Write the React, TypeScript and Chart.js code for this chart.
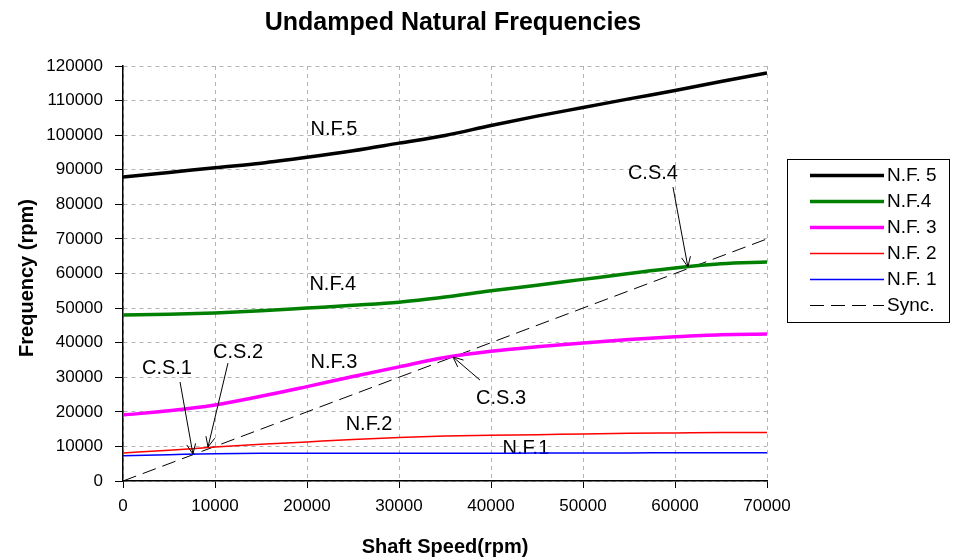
import React, { useEffect, useRef } from 'react';
import { Chart, registerables } from 'chart.js';

Chart.register(...registerables);

// ---- Data ----
const speeds = [0, 5000, 10000, 15000, 20000, 25000, 30000, 35000, 40000, 45000, 50000, 55000, 60000, 65000, 70000];
const nf5 = [87900, 89200, 90600, 91900, 93600, 95500, 97700, 99900, 102800, 105500, 108000, 110500, 112900, 115500, 118000];
const nf4 = [48000, 48200, 48600, 49200, 50000, 50800, 51700, 53200, 55000, 56600, 58300, 60000, 61600, 62800, 63300];
const nf3 = [19100, 20300, 22000, 24500, 27300, 30200, 33000, 35700, 37500, 38800, 39900, 40900, 41700, 42300, 42500];
const nf2 = [8100, 8900, 9800, 10600, 11300, 12000, 12600, 13000, 13200, 13400, 13600, 13800, 13900, 14000, 14000];
const nf1 = [7300, 7600, 7900, 8000, 8000, 8000, 8000, 8000, 8000, 8100, 8100, 8100, 8200, 8200, 8200];
const syncX = [0, 70000];
const syncY = [0, 70000];

const seriesLabels = ['N.F. 5', 'N.F.4', 'N.F. 3', 'N.F. 2', 'N.F. 1', 'Sync.'];

const noteTexts = ['N.F.5', 'N.F.4', 'N.F.3', 'N.F.2', 'N.F.1', 'C.S.1', 'C.S.2', 'C.S.3', 'C.S.4'];
const noteX = [22930, 22800, 22930, 26740, 43800, 4780, 12500, 41090, 57600];
const noteY = [101500, 56700, 34400, 16200, 9540, 32400, 37300, 24000, 88800];

// arrows: start (x0,y0) -> tip (x1,y1)
const arrowX0 = [6200, 11410, 38800, 59780];
const arrowY0 = [28630, 34100, 29200, 85000];
const arrowX1 = [7600, 9240, 35870, 61400];
const arrowY1 = [7800, 9830, 35860, 61900];

const FONT = '"Liberation Sans", Arial, Helvetica, sans-serif';

const toXY = (xs: number[], ys: number[]) => xs.map((x, i) => ({ x, y: ys[i] }));

const decorPlugin = {
  id: 'decor',
  beforeDatasetsDraw(chart: any) {
    const ctx = chart.ctx;
    const xs = chart.scales.x;
    const ys = chart.scales.y;
    ctx.save();
    ctx.fillStyle = '#000';
    ctx.font = `20px ${FONT}`;
    ctx.textAlign = 'center';
    ctx.textBaseline = 'middle';
    noteTexts.forEach((t, i) => {
      ctx.fillText(t, xs.getPixelForValue(noteX[i]), ys.getPixelForValue(noteY[i]));
    });
    ctx.restore();
  },
  afterDatasetsDraw(chart: any) {
    const ctx = chart.ctx;
    const xs = chart.scales.x;
    const ys = chart.scales.y;
    ctx.save();
    ctx.strokeStyle = '#000';
    ctx.lineWidth = 1;
    arrowX0.forEach((_, i) => {
      const x0 = xs.getPixelForValue(arrowX0[i]);
      const y0 = ys.getPixelForValue(arrowY0[i]);
      const x1 = xs.getPixelForValue(arrowX1[i]);
      const y1 = ys.getPixelForValue(arrowY1[i]);
      ctx.beginPath();
      ctx.moveTo(x0, y0);
      ctx.lineTo(x1, y1);
      const ang = Math.atan2(y1 - y0, x1 - x0);
      const L = 11;
      const a = 0.42;
      ctx.moveTo(x1 - L * Math.cos(ang - a), y1 - L * Math.sin(ang - a));
      ctx.lineTo(x1, y1);
      ctx.lineTo(x1 - L * Math.cos(ang + a), y1 - L * Math.sin(ang + a));
      ctx.stroke();
    });
    ctx.restore();
  },
  afterDraw(chart: any) {
    const ctx = chart.ctx;
    const area = chart.chartArea;
    ctx.save();
    ctx.fillStyle = '#000';
    // title
    ctx.font = `bold 25px ${FONT}`;
    ctx.textAlign = 'center';
    ctx.textBaseline = 'alphabetic';
    ctx.fillText('Undamped Natural Frequencies', 453, 30);
    // x title
    ctx.font = `bold 20px ${FONT}`;
    ctx.fillText('Shaft Speed(rpm)', (area.left + area.right) / 2, 553);
    // y title
    ctx.save();
    ctx.translate(33, 278);
    ctx.rotate(-Math.PI / 2);
    ctx.fillText('Frequency (rpm)', 0, 0);
    ctx.restore();
    // legend
    const bx = 787, by = 159, bw = 162, bh = 163;
    ctx.strokeStyle = '#000';
    ctx.lineWidth = 1;
    ctx.strokeRect(bx + 0.5, by + 0.5, bw, bh);
    ctx.font = `19px ${FONT}`;
    ctx.textAlign = 'left';
    ctx.textBaseline = 'middle';
    chart.data.datasets.forEach((ds: any, i: number) => {
      const y = 175 + i * 26;
      ctx.save();
      ctx.strokeStyle = ds.borderColor;
      ctx.lineWidth = ds.borderWidth;
      ctx.setLineDash(ds.borderDash || []);
      ctx.beginPath();
      ctx.moveTo(810, y + 0.5);
      ctx.lineTo(884, y + 0.5);
      ctx.stroke();
      ctx.restore();
      ctx.fillStyle = '#000';
      ctx.fillText(ds.label, 887, y + 1);
    });
    ctx.restore();
  },
};

export default function App() {
  const ref = useRef<HTMLCanvasElement | null>(null);
  useEffect(() => {
    if (!ref.current) return;
    const mk = (label: string, ys: number[], color: string, width: number) => ({
      label,
      data: toXY(speeds, ys),
      borderColor: color,
      backgroundColor: color,
      borderWidth: width,
      pointRadius: 0,
      fill: false,
      cubicInterpolationMode: 'monotone' as const,
    });
    const gridOpts = {
      color: '#b4b4b4',
      lineWidth: 1,
      tickColor: '#000',
      tickBorderDash: [],
    };
    const chart = new Chart(ref.current, {
      type: 'line',
      data: {
        datasets: [
          mk(seriesLabels[0], nf5, '#000000', 3.5),
          mk(seriesLabels[1], nf4, '#008000', 3.5),
          mk(seriesLabels[2], nf3, '#ff00ff', 3.5),
          mk(seriesLabels[3], nf2, '#ff0000', 1.5),
          mk(seriesLabels[4], nf1, '#0000ff', 1.5),
          {
            label: seriesLabels[5],
            data: toXY(syncX, syncY),
            borderColor: '#000000',
            backgroundColor: '#000000',
            borderWidth: 1,
            borderDash: [14, 7],
            pointRadius: 0,
            fill: false,
          },
        ],
      },
      options: {
        animation: false,
        responsive: false,
        maintainAspectRatio: false,
        layout: { padding: { left: 0, top: 66, right: 187, bottom: 0 } },
        plugins: {
          legend: { display: false },
          title: { display: false },
          tooltip: { enabled: false },
        },
        scales: {
          x: {
            type: 'linear',
            min: 0,
            max: 70000,
            afterFit: (s: any) => { s.height = 79; },
            ticks: {
              stepSize: 10000,
              color: '#000',
              font: { family: FONT, size: 17 },
              padding: 8,
              maxRotation: 0,
              callback: (v: any) => String(v),
            },
            grid: { ...gridOpts, tickLength: 7 },
            border: { color: '#000', width: 1.5, dash: [4, 4] },
          },
          y: {
            type: 'linear',
            min: 0,
            max: 120000,
            afterFit: (s: any) => { s.width = 123; },
            ticks: {
              stepSize: 10000,
              color: '#000',
              font: { family: FONT, size: 17 },
              padding: 12,
              callback: (v: any) => String(v),
            },
            grid: { ...gridOpts, tickLength: 8 },
            border: { color: '#000', width: 1.5, dash: [4, 4] },
          },
        },
      } as any,
      plugins: [decorPlugin],
    });
    return () => chart.destroy();
  }, []);
  return (
    <div style={{ position: 'fixed', left: 0, top: 0, width: 954, height: 560, background: '#fff' }}>
      <canvas ref={ref} width={954} height={560} style={{ width: 954, height: 560, display: 'block' }} />
    </div>
  );
}
